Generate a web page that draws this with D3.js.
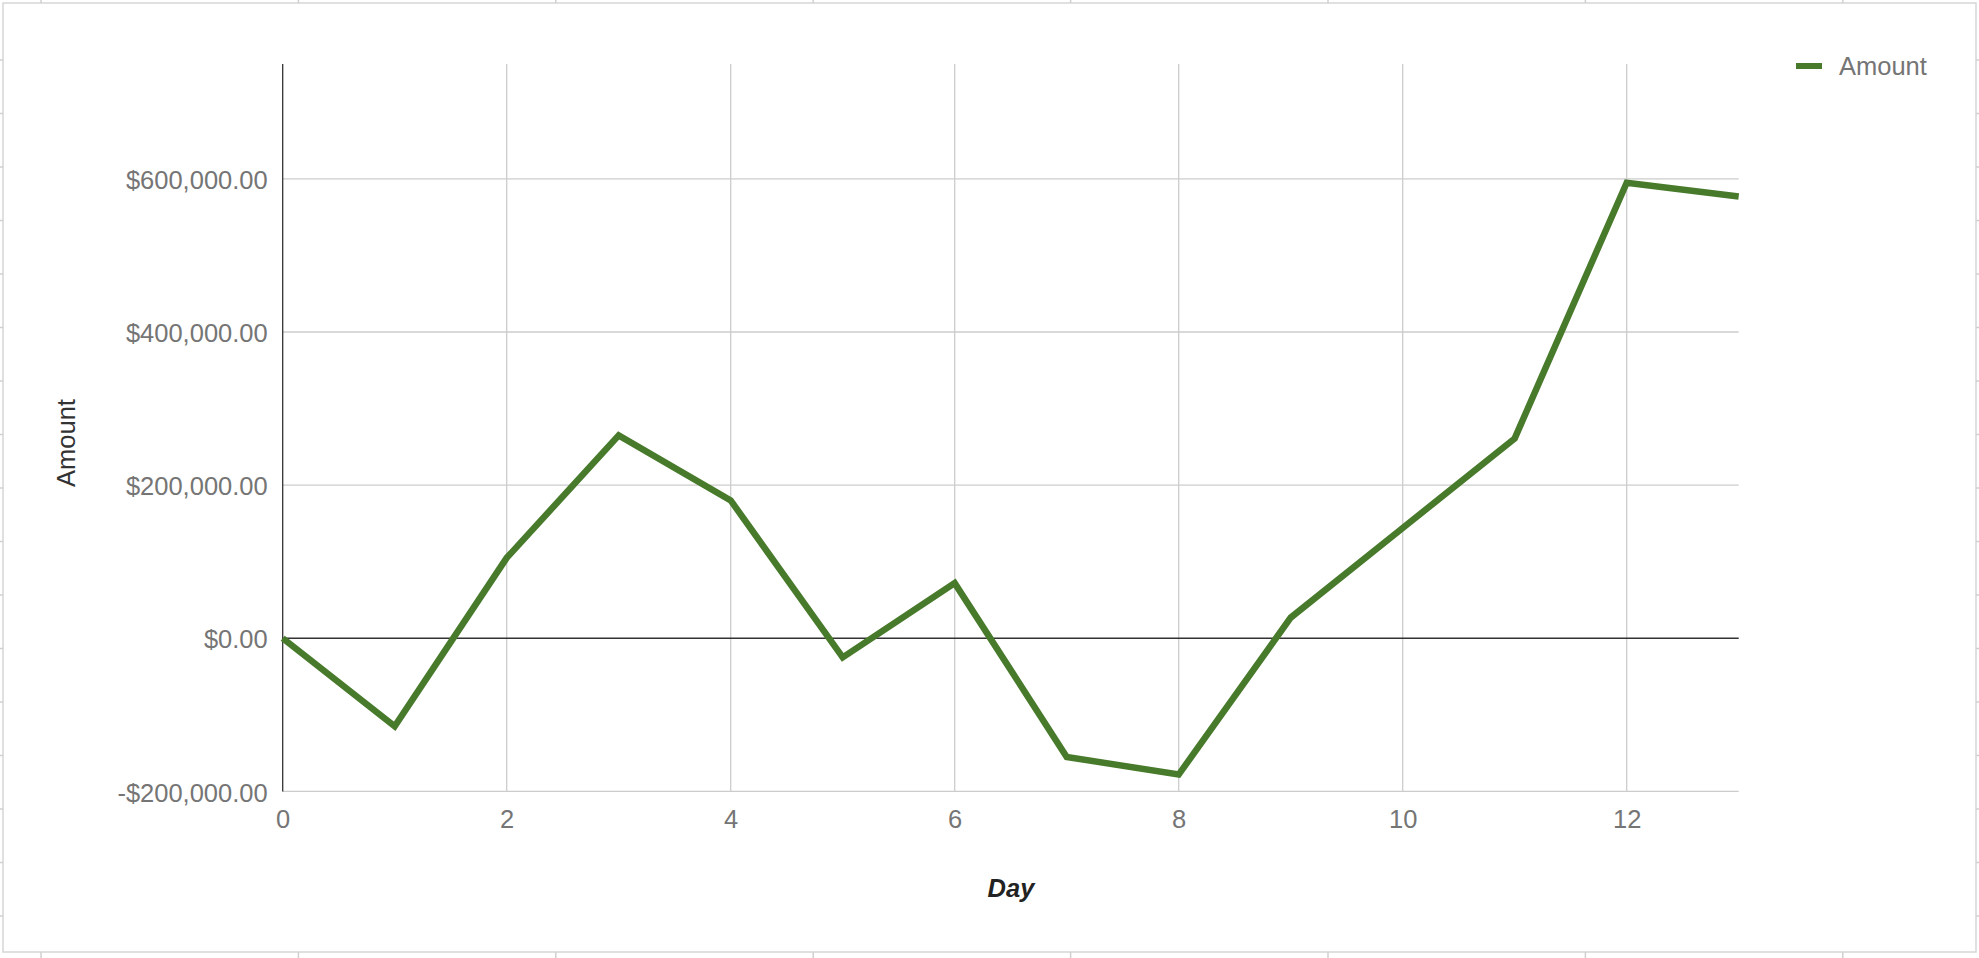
<!DOCTYPE html>
<html>
<head>
<meta charset="utf-8">
<script src="https://cdn.jsdelivr.net/npm/d3@7"></script>
<style>
  html, body { margin: 0; padding: 0; background: #fff; }
  svg { display: block; font-family: "Liberation Sans", Arial, sans-serif; }
</style>
</head>
<body>
<svg id="chart" width="1979" height="958"></svg>
<script>
// ---- data ----
const days = [0, 1, 2, 3, 4, 5, 6, 7, 8, 9, 10, 11, 12, 13];
const amounts = [0, -115000, 105000, 265000, 180000, -25000, 72000, -155000, -178000, 27000, 144000, 261000, 595000, 577000];
const seriesName = "Amount";
const xTicks = [0, 2, 4, 6, 8, 10, 12];
const yTicks = [-200000, 0, 200000, 400000, 600000];
const xTitle = "Day";
const yTitle = "Amount";

const svg = d3.select("#chart");
const W = 1979, H = 958;
const FS = 25.5;
const GREEN = "#487a2b";

// frame (spreadsheet cell border marks)
const frame = svg.append("g");
frame.append("rect").attr("x", 3).attr("y", 3).attr("width", W - 6).attr("height", 949)
  .attr("fill", "#fff").attr("stroke", "#d6d6d6").attr("stroke-width", 1.5);
d3.range(8).forEach(k => {
  const x = 41 + 257.4 * k;
  frame.append("line").attr("x1", x).attr("x2", x).attr("y1", 0).attr("y2", 3).attr("stroke", "#d0d0d0").attr("stroke-width", 1.5);
  frame.append("line").attr("x1", x).attr("x2", x).attr("y1", 952).attr("y2", 958).attr("stroke", "#d0d0d0").attr("stroke-width", 1.5);
});
d3.range(17).forEach(k => {
  const y = 60 + 53.5 * k;
  frame.append("line").attr("x1", 0).attr("x2", 3).attr("y1", y).attr("y2", y).attr("stroke", "#d0d0d0").attr("stroke-width", 1.5);
  frame.append("line").attr("x1", W - 3).attr("x2", W).attr("y1", y).attr("y2", y).attr("stroke", "#d0d0d0").attr("stroke-width", 1.5);
});

// scales
const x = d3.scaleLinear().domain([0, 13]).range([282.7, 1738.7]);
const y = d3.scaleLinear().domain([-200000, 750000]).range([791.4, 64]);

const fmt = v => (v < 0 ? "-$" : "$") + d3.format(",.2f")(Math.abs(v));

// gridlines
const grid = svg.append("g");
grid.selectAll("line.vg").data(xTicks.filter(d => d > 0)).join("line")
  .attr("x1", d => x(d)).attr("x2", d => x(d)).attr("y1", y(750000)).attr("y2", y(-200000))
  .attr("stroke", "#cccccc").attr("stroke-width", 1.3);
grid.selectAll("line.hg").data(yTicks.filter(d => d !== 0)).join("line")
  .attr("x1", x(0)).attr("x2", x(13)).attr("y1", d => y(d)).attr("y2", d => y(d))
  .attr("stroke", "#cccccc").attr("stroke-width", 1.3);

// zero baseline & y axis line
svg.append("line").attr("x1", x(0)).attr("x2", x(13)).attr("y1", y(0)).attr("y2", y(0))
  .attr("stroke", "#333").attr("stroke-width", 1.3);
svg.append("line").attr("x1", x(0)).attr("x2", x(0)).attr("y1", y(750000)).attr("y2", y(-200000))
  .attr("stroke", "#333").attr("stroke-width", 1.3);

// axes labels via d3 axes
const yAxis = d3.axisLeft(y).tickValues(yTicks).tickFormat(fmt).tickSize(0).tickPadding(15);
const gy = svg.append("g").attr("transform", `translate(${x(0)},0)`).call(yAxis);
gy.select(".domain").remove();
gy.selectAll("text").attr("fill", "#757575").attr("font-size", FS)
  .attr("font-family", "'Liberation Sans', Arial, sans-serif").attr("dy", "0.38em");

const xAxis = d3.axisBottom(x).tickValues(xTicks).tickFormat(d3.format("d")).tickSize(0).tickPadding(19);
const gx = svg.append("g").attr("transform", `translate(0,${y(-200000)})`).call(xAxis);
gx.select(".domain").remove();
gx.selectAll("text").attr("fill", "#757575").attr("font-size", FS)
  .attr("font-family", "'Liberation Sans', Arial, sans-serif").attr("dy", "0.71em");

// axis titles
svg.append("text").attr("x", 1011).attr("y", 897).attr("text-anchor", "middle")
  .attr("font-size", FS).attr("font-weight", "bold").attr("font-style", "italic").attr("fill", "#222")
  .text(xTitle);
svg.append("text").attr("transform", "translate(74.5,443) rotate(-90)").attr("text-anchor", "middle")
  .attr("font-size", FS).attr("fill", "#333").text(yTitle);

// line
const line = d3.line().x((d, i) => x(days[i])).y(d => y(d));
svg.append("path").datum(amounts).attr("d", line)
  .attr("fill", "none").attr("stroke", GREEN).attr("stroke-width", 6.5)
  .attr("stroke-linejoin", "miter").attr("stroke-linecap", "butt");

// legend
const lg = svg.append("g");
lg.append("line").attr("x1", 1796).attr("x2", 1822).attr("y1", 66).attr("y2", 66)
  .attr("stroke", GREEN).attr("stroke-width", 6);
lg.append("text").attr("x", 1839).attr("y", 75).attr("font-size", FS).attr("fill", "#757575").text(seriesName);
</script>
</body>
</html>
